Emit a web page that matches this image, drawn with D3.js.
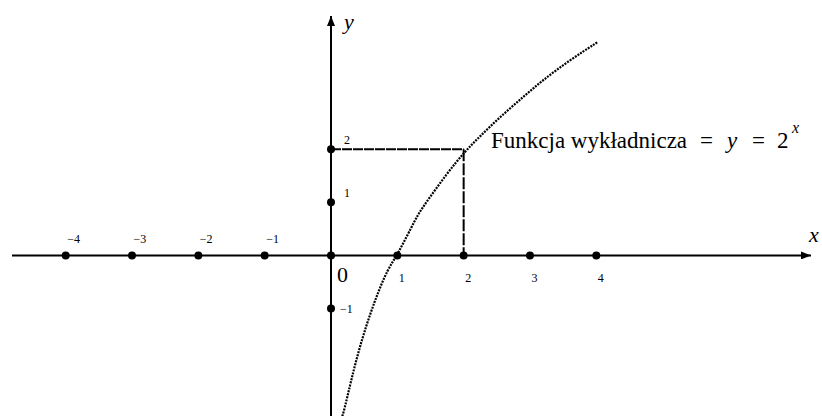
<!DOCTYPE html>
<html>
<head>
<meta charset="utf-8">
<script src="https://cdn.jsdelivr.net/npm/d3@7"></script>
<style>
  html, body { margin: 0; padding: 0; background: #fff; }
  svg { display: block; }
  text { font-family: "Liberation Serif", "Times New Roman", serif; fill: #000; }
</style>
</head>
<body>
<svg id="chart" width="822" height="416"></svg>
<script>
// Tick positions along each axis
const xTicks = [-4, -3, -2, -1, 0, 1, 2, 3, 4];
const yTicks = [-1, 1, 2];
const xTickLabels = ["\u22124", "\u22123", "\u22122", "\u22121", "", "1", "2", "3", "4"];
const yTickLabels = ["\u22121", "1", "2"];

// Points along the plotted curve
const curveX = [0.17, 0.20, 0.41, 0.66, 0.86, 1.00, 1.29, 1.39, 1.75, 2.02, 2.25, 2.55, 2.90, 3.20, 3.60, 4.02];
const curveY = [-3.03, -2.92, -1.78, -0.84, -0.24, 0.00, 0.73, 0.92, 1.55, 1.96, 2.25, 2.61, 2.99, 3.31, 3.68, 4.02];

// Highlighted point with guide lines to the axes
const guideX = 2;
const guideY = 2;

const svg = d3.select("#chart");

const x = d3.scaleLinear().domain([-4, 4]).range([65.7, 596.3]);
const y = d3.scaleLinear().domain([-1, 2]).range([308.5, 149.3]);

// Axes lines with arrowheads
const defs = svg.append("defs");
defs.append("marker")
  .attr("id", "arrow")
  .attr("viewBox", "0 0 10 8")
  .attr("refX", 10).attr("refY", 4)
  .attr("markerWidth", 10).attr("markerHeight", 8)
  .attr("markerUnits", "userSpaceOnUse")
  .attr("orient", "auto")
  .append("path").attr("d", "M0,0 L10,4 L0,8 Z").attr("fill", "#000");

svg.append("line")
  .attr("x1", 12).attr("x2", 811)
  .attr("y1", y(0)).attr("y2", y(0))
  .attr("stroke", "#000").attr("stroke-width", 2)
  .attr("marker-end", "url(#arrow)");

svg.append("line")
  .attr("x1", x(0)).attr("x2", x(0))
  .attr("y1", 416).attr("y2", 16)
  .attr("stroke", "#000").attr("stroke-width", 2)
  .attr("marker-end", "url(#arrow)");

// Axis names
svg.append("text").attr("x", 344).attr("y", 29)
  .attr("font-style", "italic").attr("font-size", 22).text("y");
svg.append("text").attr("x", 809).attr("y", 242)
  .attr("font-style", "italic").attr("font-size", 22).text("x");

// Guide lines from the highlighted point
svg.append("line")
  .attr("x1", x(0)).attr("x2", x(guideX))
  .attr("y1", y(guideY)).attr("y2", y(guideY))
  .attr("stroke", "#000").attr("stroke-width", 2)
  .attr("stroke-dasharray", "10,1");
svg.append("line")
  .attr("x1", x(guideX)).attr("x2", x(guideX))
  .attr("y1", y(guideY)).attr("y2", y(0))
  .attr("stroke", "#000").attr("stroke-width", 2)
  .attr("stroke-dasharray", "12,2");

// Dotted curve
const pts = curveX.map((d, i) => [d, curveY[i]]);
svg.append("path")
  .datum(pts)
  .attr("fill", "none")
  .attr("stroke", "#000")
  .attr("stroke-width", 2.2)
  .attr("stroke-dasharray", "2,1.1")
  .attr("d", d3.line().x(d => x(d[0])).y(d => y(d[1])).curve(d3.curveBasis));

// Tick dots
svg.selectAll("circle.xt").data(xTicks).enter().append("circle")
  .attr("class", "xt")
  .attr("cx", d => x(d)).attr("cy", y(0)).attr("r", 4).attr("fill", "#000");
svg.selectAll("circle.yt").data(yTicks).enter().append("circle")
  .attr("class", "yt")
  .attr("cx", x(0)).attr("cy", d => y(d)).attr("r", 4).attr("fill", "#000");

// X tick labels: negatives above the axis, positives below
svg.selectAll("text.xl").data(xTicks).enter().append("text")
  .attr("class", "xl")
  .attr("font-size", 12)
  .attr("x", d => x(d) + 1.5)
  .attr("y", d => d < 0 ? y(0) - 12 : y(0) + 27)
  .text((d, i) => xTickLabels[i]);

// Origin label
svg.append("text").attr("x", x(0) + 6).attr("y", y(0) + 27)
  .attr("font-size", 22).text("0");

// Y tick labels
svg.selectAll("text.yl").data(yTicks).enter().append("text")
  .attr("class", "yl")
  .attr("font-size", 12)
  .attr("x", d => d < 0 ? x(0) + 9 : x(0) + 13)
  .attr("y", d => d < 0 ? y(d) + 4 : y(d) - 5)
  .text((d, i) => yTickLabels[i]);

// Curve annotation, set piece by piece with math spacing
const labY = 148;
svg.append("text").attr("x", 491).attr("y", labY)
  .attr("font-size", 23)
  .text("Funkcja wykładnicza");
svg.append("text").attr("x", 700).attr("y", labY)
  .attr("font-size", 23).text("=");
svg.append("text").attr("x", 727).attr("y", labY)
  .attr("font-style", "italic").attr("font-size", 23).text("y");
svg.append("text").attr("x", 752).attr("y", labY)
  .attr("font-size", 23).text("=");
svg.append("text").attr("x", 777).attr("y", labY)
  .attr("font-size", 23).text("2");
svg.append("text").attr("x", 792).attr("y", 133)
  .attr("font-style", "italic").attr("font-size", 16).text("x");
</script>
</body>
</html>
